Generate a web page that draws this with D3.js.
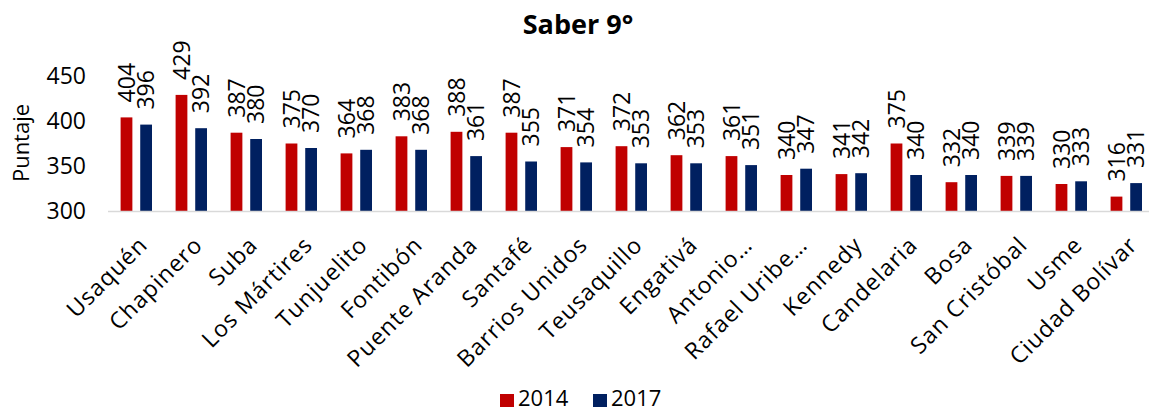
<!DOCTYPE html>
<html>
<head>
<meta charset="utf-8">
<script src="https://cdn.jsdelivr.net/npm/d3@7"></script>
<style>
  body { margin: 0; background: #fff; }
  svg text { font-family: "Open Sans", "Noto Sans", sans-serif; fill: #000; }
</style>
</head>
<body>
<script>
const categories = [
  "Usaquén", "Chapinero", "Suba", "Los Mártires", "Tunjuelito", "Fontibón",
  "Puente Aranda", "Santafé", "Barrios Unidos", "Teusaquillo", "Engativá",
  "Antonio…", "Rafael Uribe…", "Kennedy", "Candelaria", "Bosa",
  "San Cristóbal", "Usme", "Ciudad Bolívar"
];
const values2014 = [404, 429, 387, 375, 364, 383, 388, 387, 371, 372, 362, 361, 340, 341, 375, 332, 339, 330, 316];
const values2017 = [396, 392, 380, 370, 368, 368, 361, 355, 354, 353, 353, 351, 347, 342, 340, 340, 339, 333, 331];
const seriesNames = ["2014", "2017"];
const yTicks = [300, 350, 400, 450];

const w = 1149;
const h = 410;
const colors = { "2014": "#C00000", "2017": "#002060" };

const svg = d3.select("body").append("svg").attr("width", w).attr("height", h);

// scales
const xScale = d3.scaleBand().domain(categories).range([108, 1153]);
const xInner = d3.scaleBand().domain(seriesNames).range([12.6, 44]).paddingInner(0.4);
const yScale = d3.scaleLinear().domain([300, 450]).range([211, 76]);

const rows = categories.map((c, i) => ({
  cat: c,
  vals: [
    { key: "2014", v: values2014[i] },
    { key: "2017", v: values2017[i] }
  ]
}));

// title
svg.append("text")
  .attr("x", 578)
  .attr("y", 34)
  .attr("text-anchor", "middle")
  .style("font-size", "27px")
  .style("font-weight", "bold")
  .text("Saber 9°");

// y axis
const yAxis = d3.axisLeft(yScale).tickValues(yTicks).tickSize(0).tickPadding(0);
const gy = svg.append("g").attr("transform", "translate(86,0)").call(yAxis);
gy.select(".domain").remove();
gy.selectAll("text")
  .style("font-size", "23px")
  .style("font-family", '"Open Sans", sans-serif')
  .attr("fill", "#000");

svg.append("text")
  .attr("transform", "translate(29,143) rotate(-90)")
  .attr("text-anchor", "middle")
  .style("font-size", "22px")
  .text("Puntaje");

// bars
const groups = svg.selectAll(".grp")
  .data(rows)
  .enter()
  .append("g")
  .attr("class", "grp")
  .attr("transform", (d) => "translate(" + xScale(d.cat) + ",0)");

groups.selectAll("rect")
  .data((d) => d.vals)
  .enter()
  .append("rect")
  .attr("x", (d) => xInner(d.key))
  .attr("width", xInner.bandwidth())
  .attr("y", (d) => yScale(d.v))
  .attr("height", (d) => yScale(300) - yScale(d.v))
  .attr("fill", (d) => colors[d.key]);

// data labels
groups.selectAll(".lbl")
  .data((d) => d.vals)
  .enter()
  .append("text")
  .attr("class", "lbl")
  .attr("transform", (d) => "translate(" + (xInner(d.key) + xInner.bandwidth() / 2) + "," + (yScale(d.v) - 15) + ") rotate(-90)")
  .attr("dy", "0.36em")
  .style("font-size", "23px")
  .text((d) => d.v);

// x axis line
svg.append("line")
  .attr("x1", 108).attr("x2", w)
  .attr("y1", 211.5).attr("y2", 211.5)
  .attr("stroke", "#d9d9d9")
  .attr("stroke-width", 1.5);

// category labels
svg.selectAll(".cat")
  .data(categories)
  .enter()
  .append("text")
  .attr("class", "cat")
  .attr("transform", (d) => "translate(" + (xScale(d) + xScale.bandwidth() / 2 + 2) + ",235) rotate(-45)")
  .attr("text-anchor", "end")
  .attr("dy", "0.7em")
  .style("font-size", "23px")
  .style("letter-spacing", "1px")
  .text((d) => d);

// legend
const legend = svg.selectAll(".leg")
  .data(seriesNames)
  .enter()
  .append("g")
  .attr("class", "leg")
  .attr("transform", (d, i) => "translate(" + (500 + i * 93) + ",0)");

legend.append("rect")
  .attr("y", 394)
  .attr("width", 14)
  .attr("height", 13)
  .attr("fill", (d) => colors[d]);

legend.append("text")
  .attr("x", 18)
  .attr("y", 406)
  .style("font-size", "22px")
  .text((d) => d);
</script>
</body>
</html>
